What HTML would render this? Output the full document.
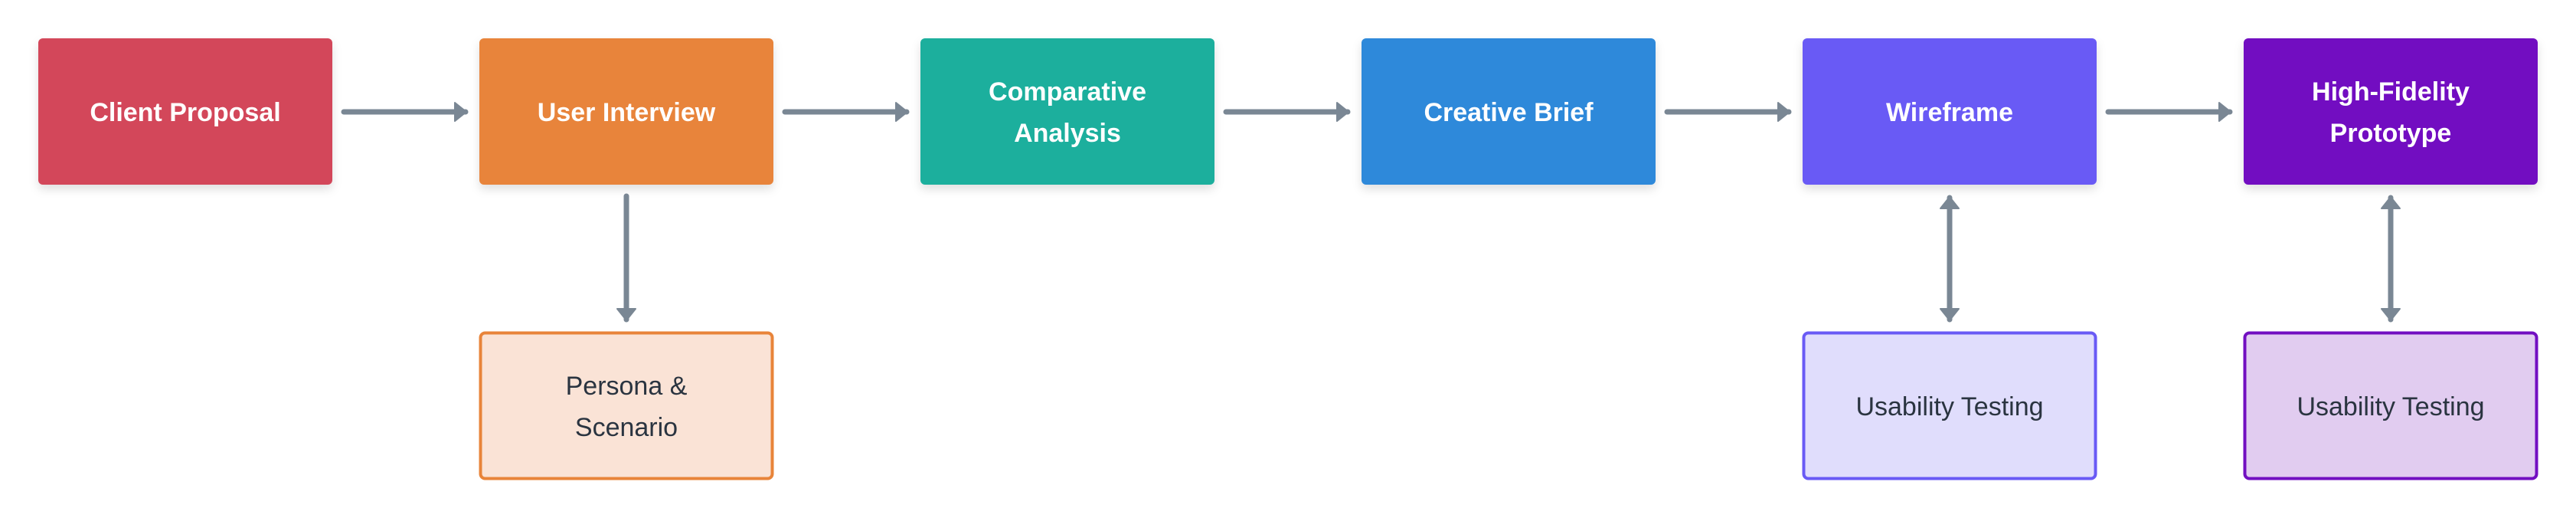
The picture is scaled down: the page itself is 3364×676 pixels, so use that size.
<!DOCTYPE html>
<html><head><meta charset="utf-8"><style>
html,body{margin:0;padding:0;background:#fff;width:3364px;height:676px;overflow:hidden}
text{font-family:"Liberation Sans",sans-serif;font-size:34px;text-anchor:middle}
.w{fill:#fff;font-weight:bold}
.d{fill:#2a3440}
</style></head><body>
<svg width="3364" height="676" viewBox="0 0 3364 676" xmlns="http://www.w3.org/2000/svg">
<defs>
<filter id="sh" x="-10%" y="-10%" width="120%" height="130%"><feDropShadow dx="0" dy="6" stdDeviation="6" flood-color="#000" flood-opacity="0.12"/></filter>
<marker id="ah" viewBox="0 0 18 26" refX="16" refY="13" markerWidth="18" markerHeight="26" orient="auto-start-reverse" markerUnits="userSpaceOnUse"><path d="M2,1 L17,13 L2,25 z" fill="#7a8794" stroke="#7a8794" stroke-width="2" stroke-linejoin="round"/></marker>
</defs>
<g filter="url(#sh)">
<rect x="50" y="50" width="384" height="191" rx="6" fill="#d3465a"/>
<rect x="626" y="50" width="384" height="191" rx="6" fill="#e8843a"/>
<rect x="1202" y="50" width="384" height="191" rx="6" fill="#1baf9d"/>
<rect x="1778" y="50" width="384" height="191" rx="6" fill="#2d89da"/>
<rect x="2354" y="50" width="384" height="191" rx="6" fill="#695af5"/>
<rect x="2930" y="50" width="384" height="191" rx="6" fill="#720fc1"/>
</g>
<rect x="627.5" y="434.5" width="381" height="190" rx="6" fill="#fae3d6" stroke="#e8843a" stroke-width="4"/>
<rect x="2355.5" y="434.5" width="381" height="190" rx="6" fill="#e0ddfc" stroke="#695af5" stroke-width="4"/>
<rect x="2931.5" y="434.5" width="381" height="190" rx="6" fill="#e1ccf0" stroke="#720fc1" stroke-width="4"/>
<text class="w" x="242" y="158">Client Proposal</text>
<text class="w" x="818" y="158">User Interview</text>
<text class="w" x="1394" y="131">Comparative</text>
<text class="w" x="1394" y="185">Analysis</text>
<text class="w" x="1970" y="158">Creative Brief</text>
<text class="w" x="2546" y="158">Wireframe</text>
<text class="w" x="3122" y="131">High-Fidelity</text>
<text class="w" x="3122" y="185">Prototype</text>
<text class="d" x="818" y="515">Persona &amp;</text>
<text class="d" x="818" y="569">Scenario</text>
<text class="d" x="2546" y="542">Usability Testing</text>
<text class="d" x="3122" y="542">Usability Testing</text>
<g stroke="#7a8794" stroke-width="7" stroke-linecap="round" fill="none">
<line x1="449" y1="146" x2="608" y2="146" marker-end="url(#ah)"/>
<line x1="1025" y1="146" x2="1184" y2="146" marker-end="url(#ah)"/>
<line x1="1601" y1="146" x2="1760" y2="146" marker-end="url(#ah)"/>
<line x1="2177" y1="146" x2="2336" y2="146" marker-end="url(#ah)"/>
<line x1="2753" y1="146" x2="2912" y2="146" marker-end="url(#ah)"/>
<line x1="818" y1="256" x2="818" y2="417" marker-end="url(#ah)"/>
<line x1="2546" y1="258" x2="2546" y2="417" marker-start="url(#ah)" marker-end="url(#ah)"/>
<line x1="3122" y1="258" x2="3122" y2="417" marker-start="url(#ah)" marker-end="url(#ah)"/>
</g>
</svg>
</body></html>
